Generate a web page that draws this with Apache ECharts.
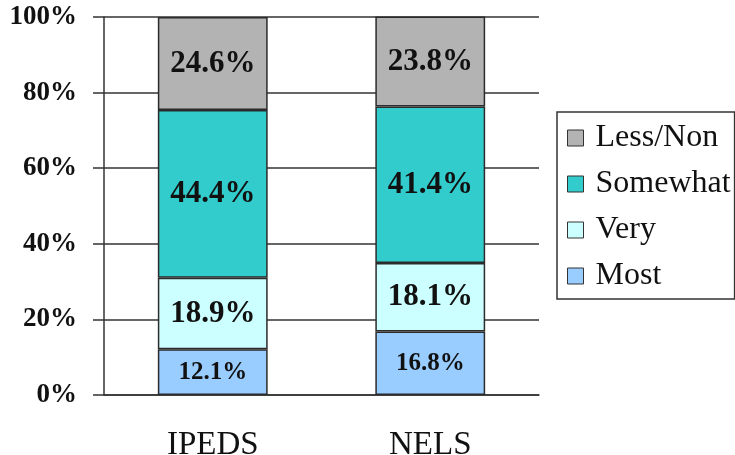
<!DOCTYPE html>
<html>
<head>
<meta charset="utf-8">
<script src="https://cdn.jsdelivr.net/npm/echarts@6/dist/echarts.min.js"></script>
<style>
  html, body { margin: 0; padding: 0; background: #ffffff; }
  #chart { width: 735px; height: 455px; }
</style>
</head>
<body>
<div id="chart"></div>
<script>
// Survey groups and the share (%) in each selectivity band
const categories = ['IPEDS', 'NELS'];
const mostValues = [12.1, 16.8];
const veryValues = [18.9, 18.1];
const somewhatValues = [44.4, 41.4];
const lessNonValues = [24.6, 23.8];
const yTicks = { min: 0, max: 100, interval: 20 };

const serif = '"Liberation Serif", "Times New Roman", serif';

function band(name, values, color, labelSize) {
  return {
    name: name,
    type: 'bar',
    stack: 'share',
    barWidth: '50.5%',
    data: values,
    itemStyle: { color: color, borderColor: '#2b2b2b', borderWidth: 1.5 },
    label: {
      show: true,
      position: 'inside',
      formatter: p => p.value.toFixed(1) + '%',
      fontFamily: serif,
      fontWeight: 'bold',
      fontSize: labelSize,
      color: '#111111'
    },
    emphasis: { disabled: true }
  };
}

const chart = echarts.init(document.getElementById('chart'), null, { renderer: 'canvas' });
chart.setOption({
  animation: false,
  backgroundColor: '#ffffff',
  grid: { left: 104, right: 196, top: 17, bottom: 60, containLabel: false, outerBoundsMode: 'none' },
  legend: {
    orient: 'vertical',
    left: 557,
    top: 112,
    padding: [10, 4, 7, 10],
    itemGap: 14,
    itemWidth: 16,
    itemHeight: 16,
    icon: 'rect',
    borderColor: '#333333',
    borderWidth: 1.5,
    data: ['Less/Non', 'Somewhat', 'Very', 'Most'],
    itemStyle: { borderColor: '#333333', borderWidth: 1 },
    textStyle: { fontFamily: serif, fontSize: 32, lineHeight: 32, color: '#111111', padding: [0, 0, 0, 7] }
  },
  xAxis: {
    type: 'category',
    data: categories,
    axisLine: { lineStyle: { color: '#333333', width: 1.5 } },
    axisTick: { length: 10, lineStyle: { color: '#333333', width: 1.5 } },
    axisLabel: { fontFamily: serif, fontSize: 33, color: '#111111', margin: 34 }
  },
  yAxis: {
    type: 'value',
    min: yTicks.min,
    max: yTicks.max,
    interval: yTicks.interval,
    axisLine: { show: true, lineStyle: { color: '#333333', width: 1.5 } },
    axisTick: { show: true, length: 11, lineStyle: { color: '#333333', width: 1.5 } },
    axisLabel: { formatter: '{value}%', fontFamily: serif, fontWeight: 'bold', fontSize: 27, color: '#111111', margin: 27 },
    splitLine: { lineStyle: { color: '#333333', width: 1.5 } }
  },
  series: [
    band('Most', mostValues, '#99ccff', 25),
    band('Very', veryValues, '#ccffff', 31),
    band('Somewhat', somewhatValues, '#33cccc', 31),
    band('Less/Non', lessNonValues, '#b3b3b3', 31)
  ]
});
</script>
</body>
</html>
